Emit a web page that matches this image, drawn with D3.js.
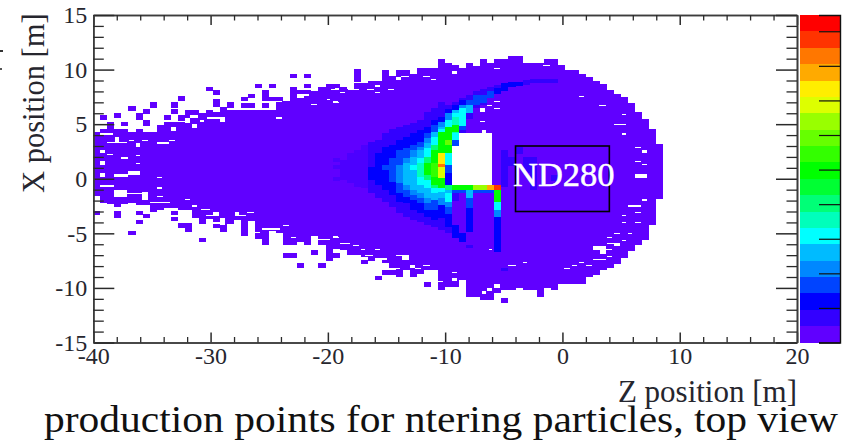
<!DOCTYPE html>
<html>
<head>
<meta charset="utf-8">
<script src="https://d3js.org/d3.v7.min.js"></script>
<style>
body { margin: 0; background: #fff; }
text { font-family: "Liberation Serif", serif; }
</style>
</head>
<body>
<div class="graph"></div>
<script>
// palette of the colour bar, bottom to top
var levelColors = ['#6000ff', '#3300ff', '#0000ff', '#0044ff', '#0088ff', '#00bbff', '#00ffff', '#00ffbb', '#00ff77', '#00ff33',
    '#00ff00', '#33ff00', '#66ff00', '#99ff00', '#ddff00', '#ffee00', '#ffaa00', '#ff7700', '#ff3300', '#ff0000']

// top and bottom of the filled body per z bin (metres), bins are 0.6 m wide from z = -40
var upperEdge = [4.3, 4.6, 5.1, 4.6, 4.6, 4.3, 4.6, 4.3, 4.3, 4.9, 5.2, 5.2, 5.4, 6.3, 6.3, 6.0, 6.3, 6.1, 6.3, 6.3,
    6.3, 6.3, 6.3, 6.3, 6.3, 6.3, 7.1, 7.1, 7.4, 7.4, 8.0, 8.0, 8.0, 8.7, 8.7, 8.4, 8.2, 8.75, 8.75, 9.0,
    9.0, 10.0, 9.4, 10.0, 10.0, 9.6, 10.1, 10.1, 10.1, 10.95, 10.6, 10.4, 10.1, 10.6, 10.3, 10.95, 10.6, 10.95, 10.95, 11.25,
    11.25, 10.6, 10.6, 10.6, 10.95, 10.95, 10.4, 10.0, 10.0, 9.6, 9.3, 9.0, 8.7, 8.1, 7.8, 7.5, 6.9, 6.1, 5.5, 4.6, 3.2]
var lowerEdge = [-1.6, -2.2, -2.3, -2.6, -2.3, -2.2, -2.4, -2.4, -3.0, -2.9, -2.7, -2.7, -2.9, -2.9, -3.6, -4.1, -3.7, -4.5, -4.9, -4.1,
    -3.8, -5.2, -3.9, -5.5, -6.1, -4.8, -5.0, -6.1, -6.1, -5.8, -6.1, -5.2, -6.1, -6.2, -6.4, -6.5, -7.0, -7.0, -7.2, -7.5,
    -7.3, -7.7, -8.2, -9.0, -8.4, -9.0, -8.7, -8.4, -8.4, -10.2, -9.9, -9.9, -9.3, -10.8, -10.8, -11.1, -11.1, -10.5, -10.2, -10.2,
    -10.0, -10.2, -10.2, -10.7, -10.0, -10.2, -9.6, -9.6, -9.6, -9.6, -9.0, -8.8, -8.4, -8.2, -7.8, -7.3, -6.6, -6.1, -5.6, -4.2, -1.9]

// isolated lowest-level cells: [bin, x top, x bottom]
var strayCells = [[28, 9.6, 9.2], [30, 9.6, 9.2], [23, 8.7, 8.3], [25, 8.7, 8.3], [28, 8.4, 8.0], [30, 8.7, 8.3], [32, 8.4, 8.0],
    [16, 8.4, 8.0], [17, 8.1, 7.7], [24, 8.1, 7.5], [22, 7.8, 7.4], [21, 7.5, 7.15], [24, 7.5, 7.15], [25, 7.5, 7.15], [26, 7.5, 7.15],
    [28, 8.1, 7.4], [29, 8.1, 7.7], [30, 8.1, 7.0], [12, 7.55, 7.1], [8, 7.0, 6.5], [11, 7.0, 6.5], [5, 6.7, 6.25], [7, 6.35, 5.95],
    [11, 6.35, 5.95], [6, 6.05, 5.4], [3, 6.05, 5.6], [1, 5.8, 5.4], [10, 5.8, 5.4], [12, 5.8, 5.4], [7, 5.4, 4.8], [4, 5.2, 4.8],
    [2, 5.2, 4.6], [17, 7.3, 6.6], [19, 7.0, 6.5], [18, 6.6, 6.3], [21, 6.95, 6.5], [22, 6.95, 6.5], [24, 6.95, 6.5], [37, 10.03, 8.9],
    [0, -2.92, -3.32], [3, -2.92, -3.63], [6, -2.92, -3.32], [7, -3.23, -3.63], [6, -3.78, -4.18], [11, -2.92, -3.32], [11, -3.47, -3.87],
    [12, -4.08, -4.48], [13, -4.08, -4.9], [5, -4.79, -5.18], [15, -5.4, -5.8], [27, -6.83, -7.26], [28, -6.83, -7.26], [31, -6.53, -6.95],
    [29, -7.72, -8.14], [32, -7.72, -8.14], [33, -6.2, -7.53], [34, -6.83, -7.26], [34, -6.8, -7.28], [38, -7.4, -7.8], [40, -8.9, -9.27],
    [41, -8.35, -8.8], [42, -8.35, -8.8], [47, -9.5, -9.9], [63, -10.34, -10.8], [58, -10.95, -11.35], [52, 3.7, 3.34], [53, 3.7, 3.34],
    [52, 2.12, 1.72], [53, 2.12, 1.72]]

// empty spots inside the body: [bin from, bin to, x top, x bottom]
var emptyCells = [[1, 2.8, 4.2, 4.05], [1.9, 4.8, 3.4, 3.25], [3.1, 3.7, 3.8, 3.25], [5.1, 5.8, 3.57, 3.45], [6.9, 7.8, 3.57, 3.45], [9, 10.8, 3.35, 3.2],
    [10.8, 11.6, 3.57, 3.45], [6.1, 6.6, 3.25, 2.9], [11, 11.7, 4.7, 4.35], [14, 14.8, 5.0, 4.65], [13, 13.7, 5.55, 5.1], [9.9, 13, 5.32, 5.22],
    [16.1, 18.7, 5.65, 5.5], [18, 18.7, 5.5, 5.2], [15.2, 15.8, 5.4, 5.2], [13.7, 14.9, 5.85, 5.55], [26, 26.8, 5.65, 5.5], [31, 31.8, 6.85, 6.75],
    [34.4, 34.9, 8.3, 8.15], [33.2, 33.7, 7.35, 7.25], [34.1, 34.9, 7.05, 6.95], [28.9, 30.6, 7.72, 7.62], [25.4, 26.8, 7.1, 7.0], [24, 25.1, 6.5, 6.4],
    [1, 1.7, 2.6, 2.4], [1.9, 2.8, 2.27, 2.17], [4, 4.9, 1.95, 1.85], [6, 6.6, 2.2, 2.1], [6, 6.6, 1.47, 1.37], [1, 1.7, 1.65, 1.25], [5, 6.6, 0.75, 0.35],
    [9, 9.8, 0.15, 0.05], [9, 9.8, -0.8, -0.9], [9, 9.8, -1.6, -1.7], [1, 1.7, 0.5, 0.2], [1.7, 3, 0.0, -0.1], [3, 5, 0.4, 0.15], [1, 3, -0.6, -0.8],
    [3, 4.8, -1.03, -1.7], [6.9, 7.8, -1.18, -1.95], [4.8, 6.9, -1.3, -1.4], [9, 9.9, -1.55, -1.65], [13, 13.7, -1.87, -1.97], [14, 14.8, -2.45, -2.55],
    [15.3, 16.6, -2.75, -2.85], [16, 17.8, -3.3, -3.4], [17, 17.8, -3.0, -3.4], [17, 18, -4, -4.1], [18, 18.7, -3.6, -4.2], [20.1, 20.7, -3, -3.4],
    [20.7, 21.7, -3.35, -3.45], [21.9, 22.8, -3.05, -3.15], [8, 10.9, -2.15, -2.25], [27, 27.8, -4.2, -4.3], [22.7, 23.7, -4.9, -5], [24, 26.6, -4.55, -4.65],
    [28.1, 28.8, -5.3, -5.4], [31.8, 33.6, -5.55, -5.65], [34, 34.9, -5.3, -5.4], [34, 35, -6.5, -6.8],
    [34, 34.8, -5.2, -5.3], [35.1, 36.5, -5.85, -5.95], [36.9, 37.8, -6.1, -6.2], [38.1, 38.6, -6.4, -6.5], [40, 40.7, -6.4, -6.5], [38.6, 39.8, -7.0, -7.1],
    [40.7, 41.7, -7.3, -7.4], [43, 43.8, -7, -7.1], [43.8, 44.9, -7, -7.4], [41.7, 43.6, -8.15, -8.25], [45, 45.7, -7.9, -8.2], [45.7, 46.6, -8.2, -8.3],
    [46.9, 47.8, -7.9, -8], [51, 51.7, -8.5, -8.6], [51, 51.7, -9.1, -9.4], [48.8, 49.7, -9.35, -9.45], [56.3, 56.7, -6.45, -6.55], [59, 60, -7.9, -8],
    [61, 61.7, -7.6, -7.7], [66.9, 67.7, -8.2, -8.3], [68, 68.8, -7.9, -8], [56.9, 57.8, -9.6, -9.97], [56, 56.7, -9.97, -10.27], [55.2, 55.8, -10.27, -10.6],
    [46.9, 47.8, 9.45, 9.35], [48, 48.7, 9.15, 9.05], [51, 51.7, 9.9, 9.6], [43, 43.7, 9.35, 9.05], [43.7, 44.9, 9.45, 9.35], [33.8, 34.8, 8.25, 8.15],
    [35, 35.7, 7.95, 7.85], [36.2, 37.8, 8.25, 8.15], [38.9, 39.9, 8.25, 8.15], [40, 40.7, 8.55, 8.45], [40, 40.7, 7.95, 7.85], [41.9, 42.7, 8.25, 8.15],
    [34, 34.8, 7.1, 7.0], [56.9, 57.8, 10.15, 10.05], [63.9, 64.9, 10.45, 10.35], [56, 56.7, 6.8, 6.7], [56.9, 57.8, 7.1, 7.0], [56.9, 57.8, 6.5, 6.4],
    [55, 55.7, 6.5, 6.1], [55, 55.7, 5.3, 5.2], [69, 69.8, 7.6, 7.5], [71.9, 72.8, 6.75, 6.65], [75.1, 75.7, 5.9, 5.8], [74, 75.7, 5.03, 4.93], [75.1, 75.7, 4.15, 4.05],
    [77, 77.8, 2.95, 2.85], [78, 78.7, 2.6, 2.4], [77, 77.8, 1.65, 1.55], [78, 78.7, 1.35, 1.25], [77, 78.7, 0.45, 0.1], [78, 78.7, -1.85, -2.0],
    [76, 77.8, -2.45, -2.55], [77, 77.8, -3.05, -3.15], [75.1, 75.7, -3.35, -3.45], [75.1, 75.7, -3.95, -4.05], [77, 77.8, -3.95, -4.05], [74, 74.8, -5, -5.1],
    [76, 76.6, -5, -5.1], [73, 73.7, -5.3, -5.4], [75.1, 75.7, -5.6, -5.7], [73, 74.8, -5.85, -5.95], [74, 74.8, -5.85, -6.2], [71, 72.8, -6.2, -6.55],
    [72, 72.8, -6.5, -6.85], [72.8, 73.7, -6.45, -6.55], [73, 73.7, -7.05, -7.15], [71, 72.8, -7.35, -7.45], [69, 69.8, -7.6, -7.7], [68, 68.7, -7.9, -8],
    [70, 70.8, -7.9, -8], [67, 67.8, -8.2, -8.3],
    // the empty window upstream of the detector
    [51, 52, 3.03, -0.57], [51.9, 56.7, 4.16, -0.57], [55.2, 55.8, 4.46, 4.16]]

// barely tinted cells at the tip of the cone: [bin, x top, x bottom]
var faintBands = [[34, 1.9, 1.5], [34, 1.3, 0.9], [34, 0.2, -0.2], [35, 1.7, -0.1], [36, 2.33, -0.42], [37, 2.63, -0.73], [38, 3.1, -0.88]]

// hot cells: [bin, level, x top, x bottom], painted in order
var heatBands = [[39, 1, 3.4, -1.34], [39, 2, 1.1, -0.1],
    [40, 1, 3.55, -1.8], [40, 2, 2.33, -0.57],
    [41, 1, 4.16, -2.1], [41, 2, 2.94, -1.03], [41, 3, 1.26, 0.8],
    [42, 1, 4.6, -2.56], [42, 2, 3.1, -1.5], [42, 3, 1.87, -0.27],
    [43, 1, 4.77, -3.17], [43, 2, 3.55, -2.1], [43, 3, 2.63, -1.34], [43, 4, 1.26, -0.42],
    [44, 1, 4.92, -3.5], [44, 2, 3.85, -2.25], [44, 3, 2.8, -1.64], [44, 4, 1.87, -1.03], [44, 5, 1.41, -0.57],
    [45, 1, 5.07, -3.78], [45, 2, 4.16, -2.86], [45, 3, 3.1, -1.95], [45, 4, 2.63, -1.5], [45, 5, 2.0, -1.03], [45, 6, 1.26, 0.8],
    [46, 1, 5.38, -3.93], [46, 2, 4.46, -3.17], [46, 3, 3.4, -2.25], [46, 4, 2.94, -1.8], [46, 5, 2.63, -1.34], [46, 6, 1.87, -0.57], [46, 7, 1.41, 0.19],
    [47, 1, 6.14, -4.24], [47, 2, 4.77, -3.5], [47, 3, 4.16, -2.86], [47, 4, 3.7, -2.25], [47, 5, 3.24, -1.8], [47, 6, 2.78, -0.88], [47, 8, 2.02, -0.12], [47, 10, 1.41, 0.34],
    [48, 1, 6.45, -4.39], [48, 2, 5.38, -3.78], [48, 3, 4.92, -2.86], [48, 5, 4.31, -1.95], [48, 6, 3.85, -1.34], [48, 8, 3.09, -0.88], [48, 10, 2.63, -0.57], [48, 11, 1.41, 0.19],
    [49, 1, 7.06, -4.7], [49, 2, 5.7, -3.63], [49, 4, 5.23, -2.4], [49, 5, 4.77, -1.8], [49, 6, 4.6, -1.18], [49, 10, 4.31, -0.88], [49, 14, 2.33, 0.04], [49, 15, 2.33, 1.35], [49, 17, 1.35, 1.05],
    [50, 1, 6.76, -5], [50, 2, 6.36, -4.4], [50, 4, 6.0, 2.33], [50, 6, 5.4, 2.33], [50, 10, 4.7, 2.33], [50, 12, 3.55, 3.09], [50, 6, 2.33, 1.26], [50, 3, 1.26, 0.5], [50, 2, 0.5, -0.57],
    [50, 8, -0.57, -1.03], [50, 5, -1.03, -1.33], [50, 6, -1.33, -2.1], [50, 4, -2.1, -2.6], [50, 3, -2.6, -3.2], [50, 2, -3.77, -4.2],
    [51, 1, 7.07, 4.16], [51, 2, 6.76, 4.16], [51, 5, 6.3, 4.16], [51, 6, 6.0, 4.16], [51, 7, 5.7, 4.16], [51, 10, 4.93, 4.3], [51, 3, 3.55, 3.03], [51, 6, 4.16, 3.55],
    [51, 1, -1.33, -2], [51, 1, -4.4, -5.3], [51, 2, -4.2, -5.45],
    [52, 1, 7.37, 4.16], [52, 2, 7.2, 6.76], [52, 4, 6.76, 6.46], [52, 6, 6.46, 4.8], [52, 3, 4.8, 4.47], [52, 2, -5, -5.75],
    [53, 1, 7.68, 5.5], [53, 3, 7.2, 6.76], [53, 5, 6.76, 6.0],
    [54, 1, 8.0, 6.46], [54, 3, 7.68, 6.76], [55, 1, 8.2, 6.76], [55, 3, 7.68, 6.9], [56, 1, 8.44, 7.37], [56, 3, 8.0, 7.37],
    [57, 1, 8.6, 7.8], [57, 2, 8.3, 7.8], [58, 2, 8.75, 8.0], [59, 2, 8.9, 8.4], [60, 2, 8.9, 8.53], [61, 1, 9.05, 8.6], [62, 1, 9.1, 8.8],
    [63, 1, 9.1, 8.8], [64, 1, 9.1, 8.8], [65, 1, 9.1, 8.8],
    // strip under the window and the three fingers below it
    [51, 10, -0.57, -1.03], [52, 10, -0.57, -1.03], [53, 10, -0.57, -1.03], [54, 13, -0.57, -1.03], [55, 13, -0.57, -1.03], [56, 16, -0.57, -1.03], [57, 18, -0.57, -1.03],
    [51, 3, -1.03, -1.33], [52, 3, -1.03, -1.33], [54, 3, -1.03, -1.33], [55, 3, -1.03, -1.33], [56, 3, -1.03, -1.33],
    [53, 5, -1.03, -1.8], [53, 3, -1.8, -2.7], [53, 2, -2.7, -4.84], [53, 1, -6.06, -6.36],
    [57, 10, -1.03, -2.1], [57, 6, -2.1, -2.87], [57, 4, -2.87, -3.5], [57, 2, -3.5, -6.67], [58, 1, -8.14, -8.44],
    [58, 1, 2.63, -0.73], [59, 1, 2.0, 1.2], [60, 1, 2.9, 2.3], [61, 1, 2.0, 0.5], [62, 1, 2.0, -1.0], [65, 1, 0.3, -0.2]]

var xTicksMajor = [-40, -30, -20, -10, 0, 10, 20]
var xTicksMinor = [-38, -36, -34, -32, -28, -26, -24, -22, -18, -16, -14, -12, -8, -6, -4, -2, 2, 4, 6, 8, 12, 14, 16, 18]
var yTicksMajor = [-15, -10, -5, 0, 5, 10, 15]
var yTicksMinor = [-14, -13, -12, -11, -9, -8, -7, -6, -4, -3, -2, -1, 1, 2, 3, 4, 6, 7, 8, 9, 11, 12, 13, 14]
var barTicks = [0, 1, 2, 3, 4, 5, 6, 7, 8, 9]
var detector = { name: 'ND280', zMin: -4, zMax: 4, xMin: -3, xMax: 3 }

var svg = d3.select('.graph')
    .append('svg')
    .attr('width', 842)
    .attr('height', 443)
    .style('display', 'block')

var zScale = d3.scaleLinear().domain([-40, 20]).range([93.3, 797])
var xScale = d3.scaleLinear().domain([-15, 15]).range([342.5, 15])
var binScale = d3.scaleLinear().domain([0, 100]).range([-40, 20])
var levelScale = d3.scaleBand().domain(d3.range(20)).range([342.5, 15])
var barScale = d3.scaleLinear().domain([0, 9.47]).range([342.5, 15])

function binX(b) { return zScale(binScale(b)) }

var heat = svg.append('g').attr('shape-rendering', 'crispEdges')

// main body
heat.selectAll('.body')
    .data(upperEdge)
    .enter().append('rect')
    .attr('class', 'body')
    .attr('x', (d, i) => binX(i))
    .attr('width', (d, i) => binX(i + 1) - binX(i))
    .attr('y', d => xScale(d))
    .attr('height', (d, i) => xScale(lowerEdge[i]) - xScale(d))
    .attr('fill', levelColors[0])

heat.selectAll('.stray')
    .data(strayCells)
    .enter().append('rect')
    .attr('class', 'stray')
    .attr('x', d => binX(d[0]))
    .attr('width', d => binX(d[0] + 1) - binX(d[0]))
    .attr('y', d => xScale(d[1]))
    .attr('height', d => xScale(d[2]) - xScale(d[1]))
    .attr('fill', levelColors[0])

heat.selectAll('.empty')
    .data(emptyCells)
    .enter().append('rect')
    .attr('class', 'empty')
    .attr('x', d => binX(d[0]))
    .attr('width', d => binX(d[1]) - binX(d[0]))
    .attr('y', d => xScale(d[2]))
    .attr('height', d => xScale(d[3]) - xScale(d[2]))
    .attr('fill', '#fff')

heat.selectAll('.faint')
    .data(faintBands)
    .enter().append('rect')
    .attr('class', 'faint')
    .attr('x', d => binX(d[0]))
    .attr('width', d => binX(d[0] + 1) - binX(d[0]))
    .attr('y', d => xScale(d[1]))
    .attr('height', d => xScale(d[2]) - xScale(d[1]))
    .attr('fill', '#4c00ff')

heat.selectAll('.band')
    .data(heatBands)
    .enter().append('rect')
    .attr('class', 'band')
    .attr('x', d => binX(d[0]))
    .attr('width', d => binX(d[0] + 1) - binX(d[0]))
    .attr('y', d => xScale(d[2]))
    .attr('height', d => xScale(d[3]) - xScale(d[2]))
    .attr('fill', d => levelColors[d[1]])

// colour bar
var bar = svg.append('g')
bar.append('g').attr('shape-rendering', 'crispEdges')
    .selectAll('rect')
    .data(levelColors)
    .enter().append('rect')
    .attr('x', 799.5)
    .attr('width', 40.5)
    .attr('y', (d, i) => levelScale(i))
    .attr('height', levelScale.bandwidth())
    .attr('fill', d => d)

var barAxis = bar.append('g')
    .attr('class', 'axis')
    .attr('transform', 'translate(840,0)')
    .call(d3.axisLeft(barScale).tickValues(barTicks).tickSize(21).tickFormat(''))
barAxis.select('.domain').attr('stroke', '#111').attr('stroke-width', 1.4)
barAxis.selectAll('line').attr('stroke', '#111').attr('stroke-width', 1.2)

// frame and ticks on all four sides
function styleAxis(g, width) {
    g.select('.domain').attr('stroke', '#3c3c3c').attr('stroke-width', 1.6)
    g.selectAll('.tick line').attr('stroke', '#2a2a2a').attr('stroke-width', width)
    g.selectAll('.tick text')
        .attr('fill', '#26262e')
        .style('font-family', '"Liberation Serif", serif')
        .style('font-size', '24px')
}

var fmt = d3.format('d')
styleAxis(svg.append('g').attr('transform', 'translate(0,342.5)')
    .call(d3.axisBottom(zScale).tickValues(xTicksMajor).tickSizeInner(-10).tickSizeOuter(0).tickPadding(4).tickFormat(d => String(fmt(d)).replace('−', '-'))), 1.5)
styleAxis(svg.append('g').attr('transform', 'translate(0,342.5)')
    .call(d3.axisBottom(zScale).tickValues(xTicksMinor).tickSizeInner(-5.5).tickSizeOuter(0).tickFormat('')), 1.3)
styleAxis(svg.append('g').attr('transform', 'translate(0,15)')
    .call(d3.axisTop(zScale).tickValues(xTicksMajor).tickSizeInner(-10).tickSizeOuter(0).tickFormat('')), 1.5)
styleAxis(svg.append('g').attr('transform', 'translate(0,15)')
    .call(d3.axisTop(zScale).tickValues(xTicksMinor).tickSizeInner(-5.5).tickSizeOuter(0).tickFormat('')), 1.3)
styleAxis(svg.append('g').attr('transform', 'translate(93.3,0)')
    .call(d3.axisLeft(xScale).tickValues(yTicksMajor).tickSizeInner(-21).tickSizeOuter(0).tickPadding(6).tickFormat(d => String(fmt(d)).replace('−', '-'))), 1.5)
styleAxis(svg.append('g').attr('transform', 'translate(93.3,0)')
    .call(d3.axisLeft(xScale).tickValues(yTicksMinor).tickSizeInner(-10.5).tickSizeOuter(0).tickFormat('')), 1.3)
styleAxis(svg.append('g').attr('transform', 'translate(797,0)')
    .call(d3.axisRight(xScale).tickValues(yTicksMajor).tickSizeInner(-21).tickSizeOuter(0).tickFormat('')), 1.5)
styleAxis(svg.append('g').attr('transform', 'translate(797,0)')
    .call(d3.axisRight(xScale).tickValues(yTicksMinor).tickSizeInner(-10.5).tickSizeOuter(0).tickFormat('')), 1.3)

// detector box
svg.append('rect')
    .attr('x', zScale(detector.zMin))
    .attr('y', xScale(detector.xMax))
    .attr('width', zScale(detector.zMax) - zScale(detector.zMin))
    .attr('height', xScale(detector.xMin) - xScale(detector.xMax))
    .attr('fill', 'none')
    .attr('stroke', '#000')
    .attr('stroke-width', 1.6)
svg.append('text')
    .attr('x', 513)
    .attr('y', 186)
    .attr('fill', '#fff')
    .attr('stroke', '#fff')
    .attr('stroke-width', 0.5)
    .style('font-size', '34.5px')
    .text(detector.name)

// titles
svg.append('text')
    .attr('transform', 'translate(44,193) rotate(-90)')
    .attr('fill', '#26262e')
    .style('font-size', '30.5px')
    .text('X position [m]')
svg.append('text')
    .attr('x', 797)
    .attr('y', 402)
    .attr('text-anchor', 'end')
    .attr('fill', '#26262e')
    .style('font-size', '31px')
    .text('Z position [m]')
svg.append('text')
    .attr('x', 44)
    .attr('y', 432)
    .attr('fill', '#111')
    .attr('textLength', 794)
    .attr('lengthAdjust', 'spacingAndGlyphs')
    .style('font-size', '38px')
    .text('production points for ntering particles, top view')

// bits of cropped text at the left edge
svg.append('rect').attr('x', 0).attr('y', 50).attr('width', 3).attr('height', 2).attr('fill', '#333')
svg.append('rect').attr('x', 0).attr('y', 68).attr('width', 2).attr('height', 2).attr('fill', '#555')
</script>
</body>
</html>
